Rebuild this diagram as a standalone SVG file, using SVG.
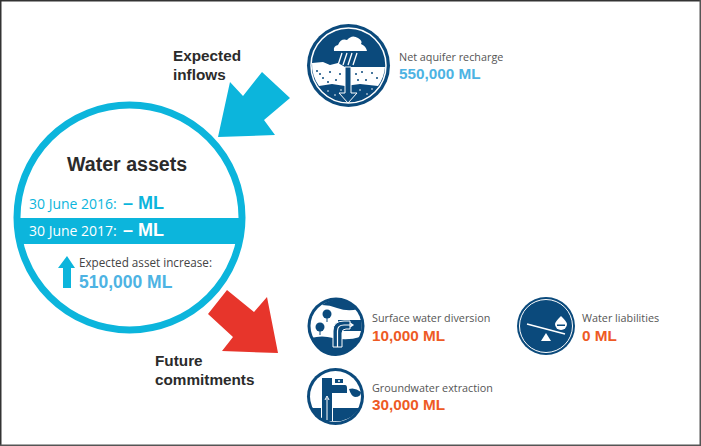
<svg xmlns="http://www.w3.org/2000/svg" width="701" height="446" viewBox="0 0 701 446">
<defs><style>
.s{font-family:"Liberation Sans",Arial,sans-serif}
.o{font-family:"Open Sans",sans-serif}
.b{font-weight:bold}
.h{font-size:15.3px;fill:#2b2b2b;font-weight:bold;font-family:"Liberation Sans",Arial,sans-serif}
.lab{font-family:"Open Sans",sans-serif;font-size:10.8px;fill:#555}
.blue{font-family:"Liberation Sans",Arial,sans-serif;font-weight:bold;font-size:15.3px;fill:#4db3e3}
.or{font-family:"Liberation Sans",Arial,sans-serif;font-weight:bold;font-size:15.3px;fill:#ee5a24}
.n{fill:#0b4a7c}
.w{fill:#fff}
.rw{fill:none;stroke:#fff;stroke-width:1.5}
</style></defs>
<rect width="701" height="446" fill="#fff"/>
<g id="frame" fill="#333">
<rect x="0" y="0" width="701" height="1.500"/>
<rect x="0" y="0" width="1.500" height="446"/>
<rect x="699.500" y="0" width="1.500" height="446" fill="#555"/>
<rect x="0" y="444.500" width="701" height="1.500" fill="#555"/>
</g>

<g id="connectors">
<polygon points="218,137 230,82 243,96 262,72 290,98 264,120 275,135" fill="#0cb5dc"/>
<polygon points="227,290 208,314 233,337 222,351 278,353 267,297 254,312" fill="#e7352b"/>
</g>

<g id="water-assets">
<circle cx="129.500" cy="217.500" r="112.500" fill="#fff" stroke="#0cb5dc" stroke-width="7"/>
<rect x="20" y="218" width="220" height="26" fill="#0cb5dc"/>
<text x="67" y="171" class="s b" font-size="19.600" fill="#2b2b2b">Water assets</text>
<text x="29" y="209" class="o" font-size="14" fill="#0cb5dc">30 June 2016:</text>
<text x="123" y="209" class="s b" font-size="18" fill="#0cb5dc">– ML</text>
<text x="29" y="236" class="o" font-size="14" fill="#fff">30 June 2017:</text>
<text x="123" y="236" class="s b" font-size="18" fill="#fff">– ML</text>
<polygon points="67,256 75,268 71,268 71,288 63,288 63,268 58,268" fill="#0cb5dc"/>
<text x="79" y="267" class="o" font-size="11.700" fill="#444">Expected asset increase:</text>
<text x="79" y="288" class="s b" font-size="17.500" fill="#4db3e3">510,000 ML</text>
</g>

<g id="label-inflows">
<text x="173" y="61" class="h">Expected</text>
<text x="173" y="80" class="h">inflows</text>
</g>
<g id="label-commitments">
<text x="155" y="366" class="h">Future</text>
<text x="155" y="385" class="h">commitments</text>
</g>

<g id="aquifer">
<circle cx="348.500" cy="65.500" r="41.500" class="n"/>
<circle cx="348.500" cy="65.500" r="37.500" class="rw"/>
<path d="M312,63 L323,62 L330,65 L338,63 L345,67 L385,67 A36.500,36.500 0 0 1 378,86 L319,86 A36.500,36.500 0 0 1 312,63 Z" class="w"/>
<path d="M319,86 L332,84 L345,86 L360,84 L378,86 A36,36 0 0 1 348.500,102 A36,36 0 0 1 319,86 Z" class="n"/>
<path d="M334,51 Q333,46 338,45 Q341,38 347,40 Q352,34 358,38 Q363,41 361,44 Q366,46 367,51 Z" class="w"/>
<g stroke="#fff" stroke-width="1.300"><path d="M338,65 L342,53 M343,65 L347,53 M348,65 L352,53 M353,65 L357,53"/></g>
<polygon points="345,67 351,67 351,93 357,93 348,103 339,93 345,93" class="n" stroke="#fff" stroke-width="1"/>
<g class="n"><circle cx="317" cy="71" r="1"/><circle cx="323" cy="78" r="1"/><circle cx="330" cy="72" r="1"/><circle cx="336" cy="80" r="1"/><circle cx="328" cy="82" r="1"/><circle cx="362" cy="72" r="1"/><circle cx="366" cy="80" r="1"/><circle cx="372" cy="73" r="1"/><circle cx="377" cy="78" r="1"/><circle cx="358" cy="80" r="1"/><circle cx="340" cy="74" r="1"/><circle cx="356" cy="74" r="1"/><circle cx="320" cy="74" r="1"/></g>
<g class="w"><circle cx="328" cy="91" r="0.800"/><circle cx="335" cy="95" r="0.800"/><circle cx="341" cy="90" r="0.800"/><circle cx="360" cy="90" r="0.800"/><circle cx="367" cy="94" r="0.800"/><circle cx="372" cy="89" r="0.800"/></g>
</g>
<g id="recharge-text">
<text x="399" y="61" class="lab">Net aquifer recharge</text>
<text x="399" y="79" class="blue">550,000 ML</text>
</g>

<g id="surface">
<circle cx="336" cy="326" r="28.500" class="n"/>
<circle cx="336" cy="326" r="25.500" fill="#fff"/>
<path d="M322,305 Q330,305 337,308 Q348,312 358,309 A26,26 0 0 0 322,305 Z" class="n"/>
<path d="M338,320 L361,320 A25.500,25.500 0 0 1 361,331 L338,331 Z" class="n"/>
<path d="M311,338 Q322,335 333,338 Q348,341 360,337 A25.500,25.500 0 0 1 311,338 Z" class="n"/>
<path d="M333,347 L333,331 Q333,321 344,321 L350,321 L350,329 L346,329 Q342,329 342,333 L342,347 Z" class="n" stroke="#fff" stroke-width="1"/>
<path d="M337.500,347 L337.500,331 Q337.500,325 344,325 L352,325 M350,323 L353,325 L350,327" fill="none" stroke="#fff" stroke-width="1.200"/>
<circle cx="327" cy="314" r="4.500" class="n"/><rect x="326.500" y="316" width="1" height="6" class="n"/>
<circle cx="320" cy="327" r="4.500" class="n"/><rect x="319.500" y="329" width="1" height="6" class="n"/>
</g>
<g id="surface-text">
<text x="372" y="322" class="lab">Surface water diversion</text>
<text x="372" y="341" class="or">10,000 ML</text>
</g>

<g id="groundwater">
<circle cx="335.500" cy="396.500" r="28.500" class="n"/>
<circle cx="335.500" cy="396.500" r="25.500" fill="#fff"/>
<path d="M322,378 L332,378 L332,385 L345,385 Q347,385 347,388 L347,393 L332,393 L332,421 L322,421 Z" class="n"/>
<path d="M335,379 L343,379 L343,383 L335,383 Z" class="n"/>
<circle cx="339" cy="381" r="1" class="w"/>
<path d="M349,389 Q355,387 361,392 Q361,397 355,397 Q351,396 349,389 Z" class="n"/>
<path d="M312,408 L321,408 L321,420 L320,420 A25.500,25.500 0 0 1 312,408 Z M333,408 L359,408 A25.500,25.500 0 0 1 333,421 Z" class="n"/>
<path d="M327,420 L327,398 M325,400 L327,396 L329,400" fill="none" stroke="#fff" stroke-width="1"/>
</g>
<g id="groundwater-text">
<text x="372" y="392" class="lab">Groundwater extraction</text>
<text x="372" y="410" class="or">30,000 ML</text>
</g>

<g id="liabilities">
<circle cx="546" cy="326" r="29" class="n"/>
<circle cx="546" cy="326" r="26.500" fill="none" stroke="#fff" stroke-width="1"/>
<path d="M527,324 L565,334" stroke="#fff" stroke-width="1.500"/>
<polygon points="546,333 551,341 541,341" class="w"/>
<path d="M561,316 Q567,322 567,324 A6,6 0 0 1 555,324 Q555,322 561,316 Z" class="w"/>
<rect x="557" y="324.500" width="8" height="1.500" class="n"/>
</g>
<g id="liabilities-text">
<text x="582" y="322" class="lab">Water liabilities</text>
<text x="582" y="341" class="or">0 ML</text>
</g>
</svg>
